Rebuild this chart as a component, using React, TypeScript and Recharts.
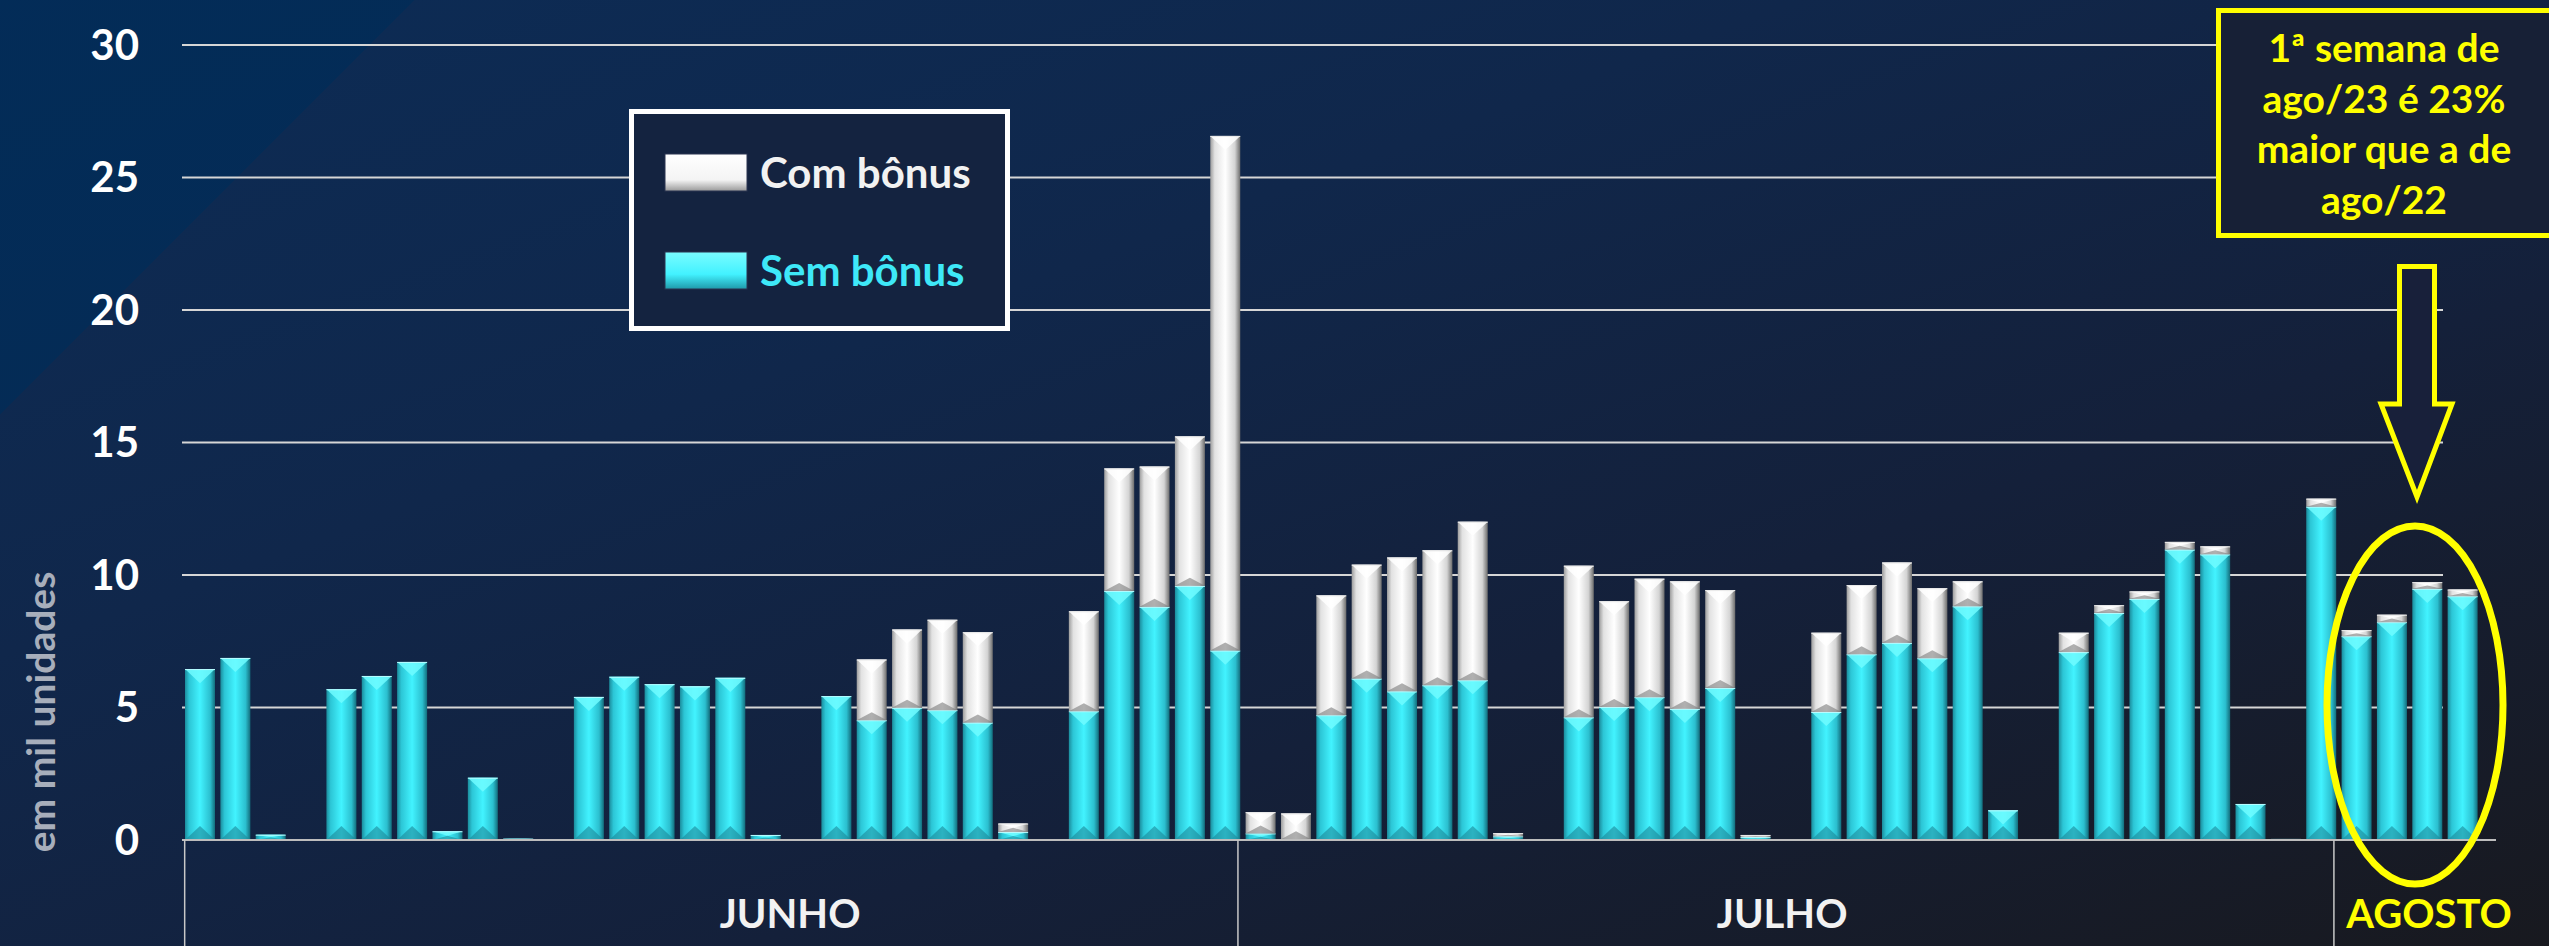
import React from 'react';
import { BarChart, Bar, XAxis, YAxis, CartesianGrid, Legend } from 'recharts';

// one slot per calendar day, 01/06 to 04/08 (null = no bar that day)
const days = [
  '01/06', '02/06', '03/06', '04/06', '05/06', '06/06', '07/06', '08/06', '09/06', '10/06',
  '11/06', '12/06', '13/06', '14/06', '15/06', '16/06', '17/06', '18/06', '19/06', '20/06',
  '21/06', '22/06', '23/06', '24/06', '25/06', '26/06', '27/06', '28/06', '29/06', '30/06',
  '01/07', '02/07', '03/07', '04/07', '05/07', '06/07', '07/07', '08/07', '09/07', '10/07',
  '11/07', '12/07', '13/07', '14/07', '15/07', '16/07', '17/07', '18/07', '19/07', '20/07',
  '21/07', '22/07', '23/07', '24/07', '25/07', '26/07', '27/07', '28/07', '29/07', '30/07',
  '31/07', '01/08', '02/08', '03/08', '04/08',
];

const semBonus = [
  6.45, 6.87, 0.2, null, 5.69, 6.19, 6.72, 0.33, 2.35, 0.05,
  null, 5.4, 6.16, 5.88, 5.8, 6.12, 0.19, null, 5.43, 4.52,
  4.99, 4.9, 4.43, 0.3, null, 4.86, 9.4, 8.8, 9.59, 7.15,
  0.25, 0.03, 4.71, 6.09, 5.61, 5.84, 6.03, 0.14, null, 4.63,
  5.02, 5.39, 4.95, 5.74, 0.11, null, 4.83, 7.01, 7.44, 6.86,
  8.82, 1.12, null, 7.09, 8.57, 9.1, 10.96, 10.78, 1.36, 0.04,
  12.58, 7.69, 8.22, 9.48, 9.2,
];

const comBonus = [
  0, 0, 0, null, 0, 0, 0, 0, 0, 0,
  null, 0, 0, 0, 0, 0, 0, null, 0, 2.29,
  2.95, 3.41, 3.41, 0.32, null, 3.77, 4.62, 5.29, 5.64, 19.42,
  0.8, 0.97, 4.52, 4.3, 5.05, 5.09, 5.98, 0.12, null, 5.72,
  3.99, 4.47, 4.81, 3.69, 0.08, null, 2.99, 2.61, 3.03, 2.64,
  0.94, 0, null, 0.73, 0.29, 0.28, 0.29, 0.3, 0, 0,
  0.3, 0.23, 0.28, 0.25, 0.25,
];

const yTicks = [0, 5, 10, 15, 20, 25, 30];
const months = ['JUNHO', 'JULHO', 'AGOSTO'];
const monthColors = ['#f2f2f2', '#f2f2f2', '#ffff00'];
const monthLabelAt = [16.7, 44.76, 63.06]; // position in day slots
const monthEnds = [29, 60];
const legendOrder = ['com', 'sem'];
const noteLines = ['1ª semana de', 'ago/23 é 23%', 'maior que a de', 'ago/22'];

const data = days.map((d, i) => ({ day: d, sem: semBonus[i], com: comBonus[i] }));

const W = 2549;
const H = 946;
const Y_AXIS_W = 182;
const RIGHT = 53;
const PAD_RIGHT = 16;
const BAND = (W - RIGHT - Y_AXIS_W - PAD_RIGHT) / days.length;
const GRID_END = 2443;
const FONT = 'Lato, "Open Sans", sans-serif';

const makeShape = (kind: 'sem' | 'com') => (props: any) => {
  const { x, y, width, height } = props;
  if (!height || height <= 0) return <g />;
  const cyan = kind === 'sem';
  const b = Math.min(width * 0.47, height / 2);
  const bb = cyan ? b : Math.min(b, 8);
  return (
    <g>
      <rect x={x} y={y} width={width} height={height} fill={`url(#${cyan ? 'gCyan' : 'gWhite'})`} />
      <polygon
        points={`${x},${y} ${x + width},${y} ${x + width / 2},${y + b}`}
        fill={cyan ? '#70fbff' : '#ffffff'}
        opacity={0.85}
      />
      <line x1={x} x2={x + width} y1={y + 0.5} y2={y + 0.5} stroke={cyan ? '#b8fcff' : '#e8e8e8'} strokeWidth={1} />
      <polygon
        points={`${x},${y + height} ${x + width},${y + height} ${x + width / 2},${y + height - bb}`}
        fill={cyan ? '#1d8797' : '#7c7c7c'}
        opacity={0.6}
      />
    </g>
  );
};

const MonthTick = (props: any) => {
  const { x, y, index } = props;
  const parts: React.ReactNode[] = [];
  if (index === 0) {
    parts.push(<line key="l0" x1={x - 15} x2={x - 15} y1={y} y2={H} stroke="#c8c8c8" strokeWidth={1.5} />);
  }
  if (monthEnds.includes(index)) {
    parts.push(<line key="le" x1={x + 13} x2={x + 13} y1={y} y2={H} stroke="#c8c8c8" strokeWidth={1.5} />);
  }
  months.forEach((m, k) => {
    if (Math.floor(monthLabelAt[k]) === index) {
      parts.push(
        <text
          key={m}
          x={x + (monthLabelAt[k] - index) * BAND}
          y={y + 88}
          textAnchor="middle"
          fontFamily={FONT}
          fontWeight={700}
          fontSize={40}
          fill={monthColors[k]}
        >
          {m}
        </text>
      );
    }
  });
  return <g>{parts}</g>;
};

const renderLegend = (props: any) => {
  const items = [...(props.payload || [])].sort(
    (a: any, b: any) => legendOrder.indexOf(a.dataKey) - legendOrder.indexOf(b.dataKey)
  );
  return (
    <svg width={381} height={222}>
      <defs>
        <linearGradient id="lgWhite" x1="0" y1="0" x2="0" y2="1">
          <stop offset="0" stopColor="#ffffff" />
          <stop offset="0.7" stopColor="#f4f4f4" />
          <stop offset="1" stopColor="#9a9a9a" />
        </linearGradient>
        <linearGradient id="lgCyan" x1="0" y1="0" x2="0" y2="1">
          <stop offset="0" stopColor="#7afcff" />
          <stop offset="0.6" stopColor="#42f2ff" />
          <stop offset="1" stopColor="#1f9aaa" />
        </linearGradient>
      </defs>
      <rect x={2.5} y={2.5} width={376} height={217} fill="#142340" stroke="#ffffff" strokeWidth={5} />
      {items.map((it: any, i: number) => {
        const cyan = it.dataKey === 'sem';
        const top = i === 0 ? 45 : 143;
        return (
          <g key={it.value}>
            <rect x={36} y={top} width={82} height={37} fill={`url(#${cyan ? 'lgCyan' : 'lgWhite'})`} stroke="#2a3550" strokeWidth={1} />
            <text
              x={131}
              y={top + 34}
              fontFamily={FONT}
              fontWeight={700}
              fontSize={42}
              fill={cyan ? '#3ee8f8' : '#f2f2f2'}
            >
              {it.value}
            </text>
          </g>
        );
      })}
    </svg>
  );
};

const App = () => {
  return (
    <div
      style={{
        position: 'relative',
        width: W,
        height: H,
        overflow: 'hidden',
        background:
          'linear-gradient(135deg, rgba(0,44,88,0.75) 293px, rgba(0,0,0,0) 293px), linear-gradient(160deg, #0c2c56 0%, #10274b 35%, #14203a 65%, #18191f 100%)',
      }}
    >
      <style>{'body{margin:0}'}</style>
      <BarChart width={W} height={H} data={data} margin={{ top: 45, right: RIGHT, bottom: 0, left: 0 }} barSize={30}>
        <defs>
          <linearGradient id="gCyan" x1="0" y1="0" x2="1" y2="0">
            <stop offset="0" stopColor="#1b8c9c" />
            <stop offset="0.14" stopColor="#2cc6d6" />
            <stop offset="0.5" stopColor="#42f3ff" />
            <stop offset="0.84" stopColor="#2bbfcf" />
            <stop offset="1" stopColor="#136d7c" />
          </linearGradient>
          <linearGradient id="gWhite" x1="0" y1="0" x2="1" y2="0">
            <stop offset="0" stopColor="#9c9c9c" />
            <stop offset="0.15" stopColor="#e2e2e2" />
            <stop offset="0.5" stopColor="#ffffff" />
            <stop offset="0.82" stopColor="#d4d4d4" />
            <stop offset="1" stopColor="#6c6c6c" />
          </linearGradient>
        </defs>
        <CartesianGrid
          vertical={false}
          horizontal={(p: any) => (
            <line key={p.key} x1={p.x1} x2={GRID_END} y1={p.y1} y2={p.y2} stroke="#d6d6d6" strokeWidth={2} />
          )}
        />
        <XAxis
          dataKey="day"
          interval={0}
          height={106}
          tickLine={false}
          tickSize={0}
          tickMargin={0}
          axisLine={{ stroke: '#bdbdbd', strokeWidth: 2 }}
          padding={{ left: 0, right: PAD_RIGHT }}
          tick={<MonthTick />}
        />
        <YAxis
          width={Y_AXIS_W}
          domain={[0, 30]}
          ticks={yTicks}
          interval={0}
          axisLine={false}
          tickLine={false}
          tickSize={6}
          tickMargin={37}
          tick={{ fill: '#ffffff', fontSize: 42, fontWeight: 700, fontFamily: FONT }}
          label={(p: any) => {
            const vb = p.viewBox || { x: 0, y: 45, height: 795 };
            const cx = vb.x + 55;
            const cy = vb.y + vb.height - 128;
            return (
              <text
                x={cx}
                y={cy}
                transform={`rotate(-90, ${cx}, ${cy})`}
                textAnchor="middle"
                fontFamily={FONT}
                fontWeight={700}
                fontSize={39}
                fill="#a7aebb"
              >
                em mil unidades
              </text>
            );
          }}
        />
        <Legend
          layout="horizontal"
          align="center"
          verticalAlign="middle"
          content={renderLegend}
          wrapperStyle={{ position: 'absolute', left: 629, top: 109, width: 381, height: 222 }}
        />
        <Bar dataKey="sem" name="Sem bônus" stackId="a" fill="#3ee8f8" shape={makeShape('sem')} isAnimationActive={false} />
        <Bar dataKey="com" name="Com bônus" stackId="a" fill="#f2f2f2" shape={makeShape('com')} isAnimationActive={false} />
      </BarChart>
      <svg width={W} height={H} style={{ position: 'absolute', left: 0, top: 0, pointerEvents: 'none' }}>
        <rect x={2218.5} y={10.5} width={345} height={225} fill="#172036" stroke="#ffff00" strokeWidth={5} />
        {noteLines.map((t, i) => (
          <text
            key={t}
            x={2384}
            y={62 + i * 50.5}
            textAnchor="middle"
            fontFamily={FONT}
            fontWeight={700}
            fontSize={39}
            fill="#ffff00"
          >
            {t}
          </text>
        ))}
        <path
          d="M2399.5,266.5 L2434.5,266.5 L2434.5,404 L2452,404 L2417,497 L2381,404 L2399.5,404 Z"
          fill="#18203a"
          stroke="#ffff00"
          strokeWidth={5}
          strokeLinejoin="miter"
        />
        <ellipse cx={2415} cy={705} rx={88} ry={179} fill="none" stroke="#ffff00" strokeWidth={7} />
      </svg>
    </div>
  );
};

export default App;
